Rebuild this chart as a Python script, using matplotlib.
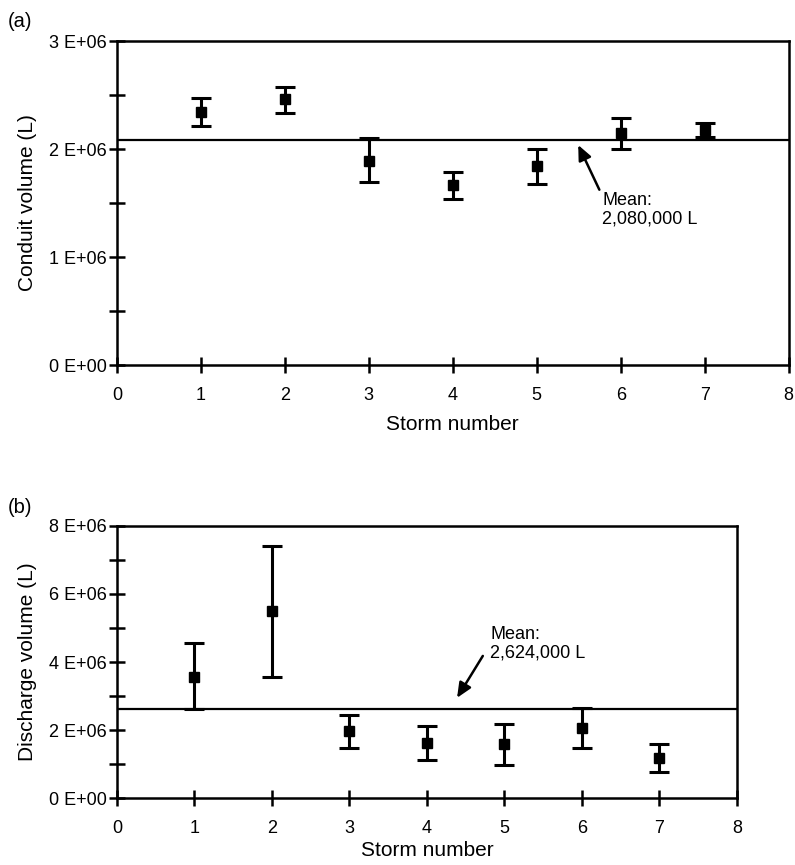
import numpy as np
import matplotlib
matplotlib.use("Agg")
import matplotlib.pyplot as plt
from matplotlib.ticker import MultipleLocator, FuncFormatter

plt.rcParams['font.family'] = ['Liberation Sans', 'DejaVu Sans']

storms = [1, 2, 3, 4, 5, 6, 7]

# (a) conduit volume (L)
conduit = [2.345e6, 2.46e6, 1.89e6, 1.663e6, 1.843e6, 2.151e6, 2.176e6]
conduit_hi = [2.475e6, 2.57e6, 2.10e6, 1.784e6, 2.003e6, 2.287e6, 2.24e6]
conduit_lo = [2.216e6, 2.336e6, 1.695e6, 1.534e6, 1.679e6, 1.997e6, 2.108e6]
conduit_mean = 2.08e6

# (b) discharge volume (L)
discharge = [3.57e6, 5.50e6, 1.98e6, 1.63e6, 1.59e6, 2.07e6, 1.19e6]
discharge_hi = [4.55e6, 7.41e6, 2.46e6, 2.13e6, 2.18e6, 2.66e6, 1.59e6]
discharge_lo = [2.61e6, 3.57e6, 1.49e6, 1.12e6, 0.97e6, 1.49e6, 0.77e6]
discharge_mean = 2.624e6


def sci_fmt(v, pos):
    return "%d E+06" % round(v / 1e6) if v != 0 else "0 E+00"


def draw_panel(ax, y, hi, lo, mean, ymax, major, ylabel, xpad):
    y = np.array(y)
    err = [y - np.array(lo), np.array(hi) - y]
    ax.errorbar(storms, y, yerr=err, fmt='s', color='black', ms=6.5,
                elinewidth=2.2, capsize=7, capthick=2.2, zorder=3)
    ax.axhline(mean, color='black', lw=1.6, zorder=2)
    ax.set_xlim(0, 8)
    ax.set_ylim(0, ymax)
    ax.xaxis.set_major_locator(MultipleLocator(1))
    ax.yaxis.set_major_locator(MultipleLocator(major))
    ax.yaxis.set_minor_locator(MultipleLocator(major / 2))
    ax.yaxis.set_major_formatter(FuncFormatter(sci_fmt))
    ax.tick_params(which='both', direction='inout', length=11, width=1.8,
                   labelsize=13, right=False, top=False)
    ax.tick_params(axis='y', pad=2)
    ax.tick_params(axis='x', pad=10)
    for s in ax.spines.values():
        s.set_linewidth(1.8)
    ax.set_xlabel("Storm number", fontsize=15, labelpad=xpad)
    ax.set_ylabel(ylabel, fontsize=15, labelpad=8)


fig = plt.figure(figsize=(7.95, 8.65), dpi=100)

ax1 = fig.add_axes([0.147, 0.578, 0.845, 0.3746])
draw_panel(ax1, conduit, conduit_hi, conduit_lo, conduit_mean, 3e6, 1e6,
           "Conduit volume (L)", 8)
ax1.annotate("", xy=(5.48, conduit_mean - 0.02e6), xytext=(5.76, 1.6e6),
             arrowprops=dict(arrowstyle='-|>,head_length=0.9,head_width=0.4',
                             color='black', lw=1.8))
ax1.text(5.78, 1.6e6, "Mean:\n2,080,000 L", fontsize=13, va='top', ha='left',
         linespacing=1.1)
fig.text(0.01, 0.975, "(a)", fontsize=14.5, va='center')

ax2 = fig.add_axes([0.147, 0.0771, 0.780, 0.315])
draw_panel(ax2, discharge, discharge_hi, discharge_lo, discharge_mean, 8e6, 2e6,
           "Discharge volume (L)", 3)
ax2.annotate("", xy=(4.37, 2.88e6), xytext=(4.74, 4.25e6),
             arrowprops=dict(arrowstyle='-|>,head_length=0.9,head_width=0.4',
                             color='black', lw=1.8))
ax2.text(4.82, 5.05e6, "Mean:\n2,624,000 L", fontsize=13, va='top', ha='left',
         linespacing=1.1)
fig.text(0.01, 0.413, "(b)", fontsize=14.5, va='center')

fig.savefig("out.png", dpi=100)
